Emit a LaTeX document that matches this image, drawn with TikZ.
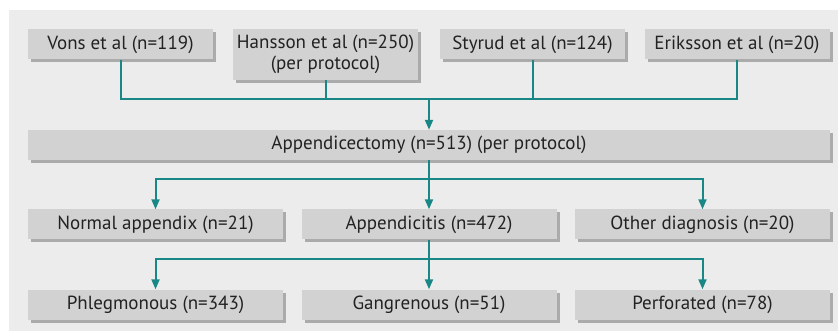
\documentclass[tikz,border=0pt]{standalone}
\usepackage{fontspec}
\setmainfont{PT Sans}
\usetikzlibrary{arrows.meta,shadows}

\definecolor{panelgray}{HTML}{ECECEC}
\definecolor{boxgray}{HTML}{D2D2D2}
\definecolor{shadegray}{HTML}{ABABAB}
\definecolor{linkteal}{HTML}{1A8787}
\definecolor{textgray}{HTML}{222222}

\tikzset{
  box/.style={fill=boxgray, text=textgray, inner sep=0pt, align=center,
    font=\fontsize{19}{21}\selectfont, minimum height=30pt,
    general shadow={shadow xshift=3pt, shadow yshift=-3pt, fill=shadegray}},
  topbox/.style={box, minimum width=185pt},
  rowbox/.style={box, minimum width=255pt},
  link/.style={draw=linkteal, line width=2pt},
  arrow/.style={link, -{Triangle[width=8pt,length=10pt]}}
}

\begin{document}
\begin{tikzpicture}[x=1pt, y=-1pt]
	\useasboundingbox (0,0) rectangle (838,331);
	\fill[panelgray] (9,10) rectangle (838,331);

	% studies
	\node[topbox] (vons) at (120.5,44.5) {Vons et al (n=119)};
	\node[topbox, minimum height=51pt] (hansson) at (325.5,54.5) {Hansson et al (n=250)\\(per protocol)};
	\node[topbox] (styrud) at (532.5,44.5) {Styrud et al (n=124)};
	\node[topbox] (eriksson) at (737,44.5) {Eriksson et al (n=20)};

	\node[box, minimum width=802pt] (appx) at (429,145) {Appendicectomy (n=513) (per protocol)};

	% diagnosis
	\node[rowbox] (normal) at (155.5,224.5) {Normal appendix (n=21)};
	\node[rowbox] (itis) at (429,224.5) {Appendicitis (n=472)};
	\node[rowbox] (other) at (702.5,224.5) {Other diagnosis (n=20)};

	% grade
	\node[rowbox] (phleg) at (155.5,304.5) {Phlegmonous (n=343)};
	\node[rowbox] (gang) at (429,304.5) {Gangrenous (n=51)};
	\node[rowbox] (perf) at (702.5,304.5) {Perforated (n=78)};

	\coordinate (join) at (429,99);
	\coordinate (split) at (429,179);
	\coordinate (split2) at (429,259);

	\draw[link] (vons.south) |- (join) -| (eriksson.south);
	\draw[link] (hansson.south) -- (hansson.south |- join);
	\draw[link] (styrud.south) -- (styrud.south |- join);
	\draw[arrow] (join) -- (appx.north);

	\draw[arrow] (appx.south) -- (itis.north);
	\draw[arrow] (split) -| (normal.north);
	\draw[arrow] (split) -| (other.north);

	\draw[arrow] (itis.south) -- (gang.north);
	\draw[arrow] (split2) -| (phleg.north);
	\draw[arrow] (split2) -| (perf.north);
\end{tikzpicture}
\end{document}
